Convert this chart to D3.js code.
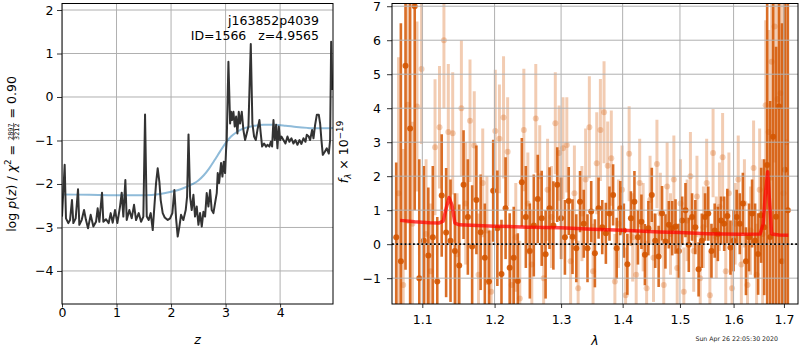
<!DOCTYPE html>
<html><head><meta charset="utf-8">
<script src="https://cdn.jsdelivr.net/npm/d3@7"></script>
<style>
body{margin:0;background:#fff;}
svg{font-family:"DejaVu Sans",sans-serif;}
</style></head><body>
<svg id="c" width="800" height="350"></svg>
<script>
// ---------------- DATA ----------------
const zGrid = [0.000,0.049,0.073,0.116,0.147,0.183,0.208,0.251,0.294,0.318,0.361,0.404,0.440,0.477,0.526,0.575,0.624,0.654,0.685,0.734,
0.758,0.807,0.856,0.893,0.930,0.972,1.015,1.064,1.095,1.125,1.162,1.187,1.235,1.278,1.321,1.358,1.407,1.450,1.492,1.523,
1.554,1.590,1.627,1.664,1.694,1.725,1.755,1.786,1.810,1.847,1.884,1.939,1.982,2.024,2.061,2.092,2.122,2.153,2.183,2.226,
2.269,2.294,2.320,2.349,2.379,2.410,2.440,2.471,2.502,2.532,2.563,2.593,2.624,2.654,2.685,2.716,2.746,2.777,2.807,2.838,
2.856,2.881,2.917,2.942,2.966,2.991,3.009,3.021,3.052,3.083,3.101,3.119,3.144,3.168,3.193,3.217,3.242,3.266,3.297,3.327,
3.358,3.388,3.419,3.462,3.492,3.523,3.554,3.584,3.621,3.645,3.670,3.706,3.743,3.768,3.804,3.829,3.853,3.878,3.902,3.927,
3.951,3.976,4.000,4.024,4.061,4.098,4.135,4.171,4.208,4.245,4.281,4.318,4.355,4.391,4.428,4.465,4.489,4.526,4.550,4.587,
4.612,4.642,4.673,4.710,4.734,4.758,4.783,4.820,4.856,4.893,4.917,4.936,4.955];
const logPz = [-2.75,-1.56,-2.79,-2.90,-2.83,-2.37,-2.90,-2.79,-2.12,-2.94,-2.83,-2.60,-2.83,-3.02,-2.71,-2.98,-2.87,-2.56,-2.87,-2.20,
-2.87,-2.81,-2.90,-2.67,-2.89,-2.60,-2.90,-2.52,-2.20,-2.75,-1.91,-2.83,-2.60,-2.79,-2.48,-2.83,-2.67,-2.87,-2.75,-0.40,
-2.75,-2.83,-2.67,-3.06,-2.52,-1.98,-1.64,-1.95,-2.37,-2.67,-2.77,-2.83,-2.79,-2.67,-2.14,-2.79,-3.21,-2.98,-2.71,-2.83,
-2.60,-2.29,-0.86,-2.29,-2.60,-2.25,-2.75,-2.52,-2.94,-2.67,-2.98,-2.64,-2.75,-2.21,-2.52,-2.14,-2.60,-2.67,-2.44,-2.21,
-1.75,-1.98,-1.52,-1.83,-1.49,-1.75,-1.22,-0.99,0.81,-0.61,-0.34,-0.53,-0.34,-0.68,-0.45,-0.84,-0.34,-0.61,-0.34,-0.76,
-0.99,-0.84,-0.68,1.22,-0.61,-0.91,-0.99,-0.76,-0.53,-0.84,-1.14,-1.07,-1.14,-1.10,-1.14,-1.03,-1.14,-0.53,-0.99,-0.64,
-1.18,-0.68,-0.99,-0.91,-0.99,-1.07,-0.91,-1.03,-0.95,-1.07,-0.99,-1.10,-0.99,-1.08,-0.95,-1.03,-0.87,-0.91,-0.99,-0.76,
-0.95,-0.64,-0.41,-0.41,-0.61,-0.99,-1.33,-1.26,-1.18,-1.30,-0.99,1.27,0.16];

const zChi = [0,0.5,1.0,1.5,1.8,2.0,2.2,2.4,2.5,2.6,2.7,2.8,2.9,3.0,3.1,3.2,3.3,3.5,3.7,3.9,4.1,4.3,4.5,4.7,4.97];
const chi2Curve = [-2.24,-2.25,-2.26,-2.26,-2.23,-2.18,-2.11,-2.00,-1.92,-1.80,-1.64,-1.45,-1.25,-1.06,-0.91,-0.81,-0.74,-0.67,-0.64,-0.64,-0.66,-0.69,-0.71,-0.72,-0.71];

const lamDark = [1.066,1.072,1.078,1.084,1.090,1.096,1.102,1.108,1.114,1.120,
1.126,1.132,1.138,1.144,1.150,1.156,1.162,1.168,1.174,1.180,
1.186,1.192,1.198,1.204,1.210,1.216,1.222,1.228,1.234,1.240,
1.246,1.252,1.258,1.264,1.270,1.276,1.282,1.288,1.294,1.300,
1.306,1.312,1.318,1.324,1.330,1.336,1.342,1.348,1.354,1.360,
1.366,1.372,1.378,1.384,1.390,1.396,1.402,1.408,1.414,1.420,
1.426,1.432,1.438,1.444,1.450,1.456,1.462,1.468,1.474,1.480,
1.486,1.492,1.498,1.504,1.510,1.516,1.522,1.528,1.534,1.540,
1.546,1.552,1.558,1.564,1.570,1.576,1.582,1.588,1.594,1.600,
1.606,1.612,1.618,1.624,1.630,1.636,1.642,1.648,1.654,1.660,
1.666,1.672,1.678,1.684,1.690,1.696,1.702,1.708];
const fluxDark = [0.2,-0.5,5.25,3.4,7.0,-1.0,0.1,-0.33,0.2,-1.1,
1.43,0.34,0.1,-0.2,-0.63,1.75,0.8,-0.07,1.3,0.35,
-0.4,-1.1,1.57,0.47,-0.88,1.06,-0.69,-0.4,-1.08,1.82,
0.8,-0.2,0.55,1.33,0.76,-0.3,1.06,0.55,1.75,0.76,
0.2,1.27,0.22,-0.12,1.25,0.6,-0.12,0.96,-0.27,1.06,
0.5,0.32,0.9,1.45,-0.12,1.06,0.4,-0.59,0.76,1.25,
0.2,0.66,-0.31,0.47,1.45,0.1,-0.36,0.91,0.08,0.57,
0.47,0.52,-0.2,0.7,1.0,-0.02,0.8,0.5,-0.74,0.1,
0.8,0.9,-0.2,0.4,0.3,0.7,0.6,0.83,-0.1,0.1,
0.8,0.6,1.2,-0.5,0.2,0.9,0.1,-0.29,0.85,0.5,
2.33,0.21,3.16,0.81,4.05,-0.5,2.19,1.0];
const errDark = [2.2,7,6,6,6,3.5,2.2,2.0,2.1,1.9,
1.8,1.9,1.8,1.7,1.8,1.6,1.7,1.8,1.6,1.7,
1.6,1.5,1.5,1.7,1.6,1.5,1.6,1.5,1.4,1.3,
1.5,1.4,1.5,1.3,1.4,1.3,1.2,1.3,1.1,1.2,
1.1,1.0,1.1,1.0,0.9,1.0,1.0,0.9,1.0,0.9,
0.8,0.9,0.8,0.9,0.9,0.8,0.8,0.9,0.8,0.9,
0.8,0.8,0.9,0.8,0.8,0.8,0.9,0.8,0.8,0.7,
0.8,0.8,0.8,0.7,0.8,0.8,0.7,0.8,0.8,0.8,
0.7,0.8,0.8,0.8,0.8,0.7,0.8,0.8,0.8,0.9,
0.8,0.9,0.9,1.0,1.0,1.0,1.1,1.2,1.4,2.0,
5,4,6,5,6,7,6,7];

const lamLight = [1.069,1.075,1.081,1.087,1.093,1.099,1.105,1.111,1.117,1.123,
1.129,1.135,1.141,1.147,1.153,1.159,1.165,1.171,1.177,1.183,
1.189,1.195,1.201,1.207,1.213,1.219,1.225,1.231,1.237,1.243,
1.249,1.255,1.261,1.267,1.273,1.279,1.285,1.291,1.297,1.303,
1.309,1.315,1.321,1.327,1.333,1.339,1.345,1.351,1.357,1.363,
1.369,1.375,1.381,1.387,1.393,1.399,1.405,1.411,1.417,1.423,
1.429,1.435,1.441,1.447,1.453,1.459,1.465,1.471,1.477,1.483,
1.489,1.495,1.501,1.507,1.513,1.519,1.525,1.531,1.537,1.543,
1.549,1.555,1.561,1.567,1.573,1.579,1.585,1.591,1.597,1.603,
1.609,1.615,1.621,1.627,1.633,1.639,1.645,1.651,1.657,1.663,
1.669,1.675,1.681,1.687,1.693,1.699,1.705];
const fluxLight = [1.5,-1.2,4.1,0.6,4.05,5.15,0.3,-0.8,2.85,3.44,
6.0,3.3,3.26,-0.3,4.0,1.2,3.63,2.9,-0.9,1.8,
0.4,-1.4,3.33,3.1,3.73,2.72,-1.2,0.2,-1.6,3.36,
1.2,-0.6,3.7,2.0,-1.0,1.6,0.8,3.56,2.68,2.82,
2.92,-0.5,1.5,-1.3,0.9,1.9,3.44,-0.8,2.38,3.36,
3.88,2.31,2.53,-1.1,0.6,1.6,-1.5,2.66,0.2,-0.9,
1.8,0.5,-1.3,1.3,-0.4,2.36,0.9,-1.2,1.7,0.3,
1.9,-0.7,1.2,-1.4,0.7,2.0,-0.2,1.4,-1.0,0.5,
1.8,-1.5,2.68,0.2,1.1,2.56,-0.8,1.5,-1.3,0.6,
1.9,-0.6,1.2,-1.2,0.4,2.24,-0.9,1.6,0.3,4.09,
3.3,5.37,6.4,4.27,4.44,1.5,3.0];
const errLight = [4,4,3.5,3,2.5,2.2,2.2,2.0,2.0,1.8,
2.0,2.0,1.8,1.8,2.0,1.8,1.8,1.6,1.8,1.6,
1.6,1.8,1.8,1.6,1.8,1.6,1.7,1.6,1.7,1.8,
1.5,1.6,1.6,1.5,1.5,1.5,1.5,1.5,1.4,1.5,
1.4,1.5,1.4,1.4,1.4,1.5,1.5,1.4,1.5,1.5,
1.5,1.3,1.4,1.4,1.3,1.3,1.4,1.4,1.3,1.3,
1.3,1.3,1.4,1.3,1.3,1.3,1.2,1.3,1.3,1.2,
1.3,1.3,1.3,1.3,1.2,1.3,1.2,1.2,1.3,1.2,
1.3,1.3,1.3,1.2,1.3,1.3,1.3,1.2,1.3,1.2,
1.3,1.2,1.3,1.3,1.3,1.4,1.5,1.8,2.2,2.5,
3,3.5,4,4,5,6,6];

const lamModel = [1.071,1.090,1.110,1.122,1.128,1.132,1.136,1.140,1.144,1.150,1.200,1.250,1.300,1.350,1.400,1.464,1.500,1.550,1.612,1.652,1.658,1.662,1.667,1.671,1.675,1.690,1.709];
const fluxModel = [0.70,0.66,0.63,0.62,0.68,1.05,1.37,1.15,0.62,0.57,0.53,0.50,0.48,0.44,0.41,0.36,0.34,0.31,0.29,0.30,0.60,1.40,2.13,1.20,0.30,0.27,0.26];

const zTicks = [0,1,2,3,4];
const pzTicks = [-4,-3,-2,-1,0,1,2];
const lamTicks = [1.1,1.2,1.3,1.4,1.5,1.6,1.7];
const fTicks = [-1,0,1,2,3,4,5,6,7];

const titleLines = ["j163852p4039", "ID=1566   z=4.9565"];
const dateText = "Sun Apr 26 22:05:30 2020";

// ---------------- DRAW ----------------
const svg = d3.select('#c');
const FS = 12.5;
const L = {x0:62, x1:333, y0:3.5, y1:304};
const R = {x0:392, x1:798, y0:3.5, y1:304};
const xz = d3.scaleLinear().domain([0,4.97]).range([L.x0,L.x1]);
const yp = d3.scaleLinear().domain([-4.76,2.15]).range([L.y1,L.y0]);
const xl = d3.scaleLog().domain([1.0606,1.729]).range([R.x0,R.x1]);
const yf = d3.scaleLinear().domain([-1.76,7.08]).range([R.y1,R.y0]);

const defs = svg.append('defs');
defs.append('clipPath').attr('id','clipL').append('rect').attr('x',L.x0).attr('y',L.y0).attr('width',L.x1-L.x0).attr('height',L.y1-L.y0);
defs.append('clipPath').attr('id','clipR').append('rect').attr('x',R.x0).attr('y',R.y0).attr('width',R.x1-R.x0).attr('height',R.y1-R.y0);

function drawGrid(g, P, xs, ys, xt, yt){
  g.selectAll('line.gx').data(xt).enter().append('line').attr('class','gx')
    .attr('x1',d=>xs(d)).attr('x2',d=>xs(d)).attr('y1',P.y0).attr('y2',P.y1)
    .attr('stroke','#b0b0b0').attr('stroke-width',1);
  g.selectAll('line.gy').data(yt).enter().append('line').attr('class','gy')
    .attr('y1',d=>ys(d)).attr('y2',d=>ys(d)).attr('x1',P.x0).attr('x2',P.x1)
    .attr('stroke','#b0b0b0').attr('stroke-width',1);
}

// Left panel
const gL = svg.append('g').attr('clip-path','url(#clipL)');
drawGrid(gL, L, xz, yp, zTicks, pzTicks);
gL.append('path').datum(zChi.map((z,i)=>[z,chi2Curve[i]]))
  .attr('d', d3.line().x(d=>xz(d[0])).y(d=>yp(d[1])).curve(d3.curveMonotoneX))
  .attr('fill','none').attr('stroke','#1f77b4').attr('stroke-opacity',0.5).attr('stroke-width',2);
gL.append('path').datum(zGrid.map((z,i)=>[z,logPz[i]]))
  .attr('d', d3.line().x(d=>xz(d[0])).y(d=>yp(d[1])))
  .attr('fill','none').attr('stroke','#333').attr('stroke-width',2).attr('stroke-linejoin','round');

// Right panel
const gR = svg.append('g').attr('clip-path','url(#clipR)');
const C = '#d45500';
function errSeries(lam, flux, err, op, opDot, w){
  const data = lam.map((l,i)=>({l, f:flux[i], e:err[i]}));
  const g = gR.append('g');
  g.selectAll('line').data(data).enter().append('line')
    .attr('x1',d=>xl(d.l)).attr('x2',d=>xl(d.l))
    .attr('y1',d=>yf(d.f-d.e)).attr('y2',d=>yf(d.f+d.e))
    .attr('stroke',C).attr('stroke-opacity',op).attr('stroke-width',w);
  g.selectAll('circle').data(data).enter().append('circle')
    .attr('cx',d=>xl(d.l)).attr('cy',d=>yf(d.f)).attr('r',3)
    .attr('fill',C).attr('fill-opacity',opDot);
}
errSeries(lamLight, fluxLight, errLight, 0.3, 0.28, 3);
errSeries(lamDark, fluxDark, errDark, 0.85, 0.9, 2.6);
drawGrid(gR, R, xl, yf, lamTicks, fTicks);
gR.append('path').datum(lamModel.map((l,i)=>[l,fluxModel[i]]))
  .attr('d', d3.line().x(d=>xl(d[0])).y(d=>yf(d[1])))
  .attr('fill','none').attr('stroke','red').attr('stroke-opacity',0.72).attr('stroke-width',3.5).attr('stroke-linejoin','round');
gR.append('line').attr('x1',R.x0).attr('x2',R.x1).attr('y1',yf(0)).attr('y2',yf(0))
  .attr('stroke','#000').attr('stroke-width',1.8).attr('stroke-dasharray','1.8,2.4');

// Axes
function styleAxis(g){
  g.select('.domain').remove();
  g.attr('font-size',FS).attr('font-family','"DejaVu Sans",sans-serif');
  g.selectAll('.tick line').attr('stroke','#000').attr('stroke-width',0.8);
  g.selectAll('.tick text').attr('fill','#000');
}
svg.append('g').attr('transform',`translate(0,${L.y1})`)
  .call(d3.axisBottom(xz).tickValues(zTicks).tickSize(3.5).tickPadding(0.6).tickFormat(d3.format('d'))).call(styleAxis);
svg.append('g').attr('transform',`translate(${L.x0},0)`)
  .call(d3.axisLeft(yp).tickValues(pzTicks).tickSize(5).tickPadding(3.5).tickFormat(d3.format('d'))).call(styleAxis);
svg.append('g').attr('transform',`translate(0,${R.y1})`)
  .call(d3.axisBottom(xl).tickValues(lamTicks).tickSize(4).tickPadding(7.6).tickFormat(d3.format('.1f'))).call(styleAxis);
svg.append('g').attr('transform',`translate(${R.x0},0)`)
  .call(d3.axisLeft(yf).tickValues(fTicks).tickSize(5).tickPadding(6).tickFormat(d3.format('d'))).call(styleAxis);

// Frames
[L,R].forEach(P=>svg.append('rect').attr('x',P.x0).attr('y',P.y0).attr('width',P.x1-P.x0).attr('height',P.y1-P.y0)
  .attr('fill','none').attr('stroke','#000').attr('stroke-width',1));

// Title text
titleLines.forEach((t,i)=>svg.append('text').attr('x',319).attr('y',25+i*14.5).attr('text-anchor','end')
  .attr('font-size',FS).style('white-space','pre').text(t));

// Axis labels
svg.append('text').attr('x',(L.x0+L.x1)/2).attr('y',344).attr('text-anchor','middle').attr('font-size',FS).attr('font-style','italic').text('z');
svg.append('text').attr('x',(R.x0+R.x1)/2).attr('y',345).attr('text-anchor','middle').attr('font-size',FS).attr('font-style','italic').text('λ');

function rotLabel(pieces, baseX, cy){
  const g = svg.append('g');
  let x = 0;
  pieces.forEach(p=>{
    if(p.frac){
      const n = g.append('text').attr('font-size',p.s).text(p.frac[0]);
      const d = g.append('text').attr('font-size',p.s).text(p.frac[1]);
      const w = Math.max(n.node().getComputedTextLength(), d.node().getComputedTextLength());
      n.attr('x',x+1+w/2).attr('y',-3.4).attr('text-anchor','middle');
      d.attr('x',x+1+w/2).attr('y',3.1).attr('text-anchor','middle');
      g.append('line').attr('x1',x+0.5).attr('x2',x+w+1.5).attr('y1',-2.4).attr('y2',-2.4).attr('stroke','#000').attr('stroke-width',0.6);
      x += w+2;
    } else {
      const t = g.append('text').attr('x',x).attr('y',p.dy||0).attr('font-size',p.s||FS)
        .attr('font-style',p.it?'italic':null).style('white-space','pre').text(p.t);
      x += t.node().getComputedTextLength();
    }
  });
  g.attr('transform',`translate(${baseX},${cy + x/2}) rotate(-90)`);
}
rotLabel([{t:'log '},{t:'p',it:true},{t:'('},{t:'z',it:true},{t:')'},{t:' / '},{t:'χ',it:true},{t:'2',s:8.75,dy:-4.8},
  {t:' = '},{frac:['2897','3212'],s:6.5},{t:' = 0.90'}], 16, 154);
rotLabel([{t:'f',it:true},{t:'λ',it:true,s:8.75,dy:2.6},{t:' × 10'},{t:'−19',s:8.75,dy:-5}], 348, 152);

// Date stamp
svg.append('text').attr('x',778).attr('y',341).attr('text-anchor','end').attr('font-size',6.25).attr('fill','#222').text(dateText);
</script>
</body></html>
